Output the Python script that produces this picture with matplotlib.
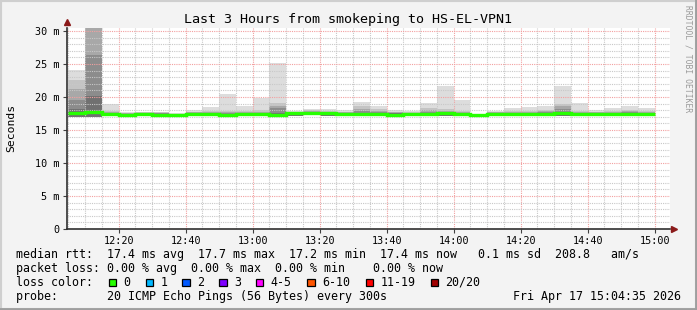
import numpy as np
import pandas as pd
import matplotlib
matplotlib.use("Agg")
from matplotlib import pyplot as plt
import matplotlib.dates as mdates
from matplotlib.ticker import MultipleLocator, FuncFormatter
from matplotlib.patches import Rectangle

# 5 minute steps, values in ms
bar_times = pd.date_range("2026-04-17 12:05", periods=35, freq="5min")
smoke_max = [24.1, 30.4, 19.0, 17.7, 17.8, 17.8, 17.5, 18.0, 18.5, 20.4, 18.6, 19.9, 25.1, 17.9, 18.2, 18.2, 18.0, 19.3,
             18.6, 18.0, 17.9, 19.1, 21.6, 19.5, 17.4, 17.9, 18.4, 18.5, 18.6, 21.7, 19.1, 18.1, 18.3, 18.6, 18.4]
smoke_p2 = [22.6, 30.4, 17.9, 17.6, 17.7, 17.7, 17.4, 17.8, 17.9, 17.9, 17.9, 18.0, 19.1, 17.8, 18.0, 17.9, 17.8, 18.6,
            18.2, 17.8, 17.7, 18.3, 18.2, 17.9, 17.4, 17.8, 17.9, 17.9, 18.1, 19.0, 17.9, 17.8, 17.9, 18.0, 17.9]
smoke_p3 = [21.2, 30.4, 17.7, 17.5, 17.6, 17.6, 17.4, 17.7, 17.7, 17.7, 17.7, 17.8, 18.6, 17.7, 17.9, 17.8, 17.7, 18.2,
            17.9, 17.7, 17.6, 18.0, 17.9, 17.8, 17.3, 17.7, 17.8, 17.8, 17.9, 18.6, 17.8, 17.7, 17.8, 17.9, 17.8]
smoke_p4 = [19.6, 26.3, 17.6, 17.4, 17.5, 17.5, 17.3, 17.6, 17.6, 17.5, 17.6, 17.6, 18.3, 17.6, 17.7, 17.7, 17.6, 17.9,
            17.7, 17.6, 17.5, 17.8, 17.7, 17.6, 17.3, 17.5, 17.6, 17.6, 17.7, 18.2, 17.6, 17.6, 17.6, 17.7, 17.6]
smoke_p5 = [18.2, 20.2, 17.5, 17.3, 17.4, 17.4, 17.3, 17.5, 17.5, 17.3, 17.5, 17.5, 17.6, 17.6, 17.6, 17.6, 17.5, 17.6,
            17.6, 17.5, 17.4, 17.6, 17.6, 17.5, 17.3, 17.4, 17.5, 17.5, 17.6, 17.7, 17.5, 17.5, 17.5, 17.6, 17.5]
smoke_min = [16.9, 17.0, 17.1, 17.0, 17.1, 17.1, 17.1, 17.1, 17.1, 16.9, 17.1, 17.1, 17.0, 17.1, 17.2, 17.1, 17.1, 17.1,
             17.1, 17.1, 17.1, 17.1, 17.1, 17.1, 17.1, 17.1, 17.1, 17.1, 17.1, 17.1, 17.1, 17.1, 17.1, 17.1, 17.1]
median = [17.5, 17.8, 17.4, 17.3, 17.4, 17.3, 17.2, 17.4, 17.4, 17.3, 17.4, 17.4, 17.3, 17.5, 17.5, 17.5, 17.4, 17.4,
          17.4, 17.3, 17.4, 17.4, 17.5, 17.4, 17.2, 17.4, 17.4, 17.4, 17.4, 17.5, 17.4, 17.4, 17.4, 17.4, 17.4]

loss_labels = ["0", "1", "2", "3", "4-5", "6-10", "11-19", "20/20"]
loss_colors = ["#26ff00", "#00b8ff", "#0059ff", "#7e00ff", "#ff00ff", "#ff5500", "#ff0000", "#a10000"]
loss_box_x = [108.7, 146.0, 182.3, 219.3, 256.0, 307.3, 365.7, 431.0]

title = "Last 3 Hours from smokeping to HS-EL-VPN1"
rtt_line = "median rtt:  17.4 ms avg  17.7 ms max  17.2 ms min  17.4 ms now   0.1 ms sd  208.8   am/s"
loss_line = "packet loss: 0.00 % avg  0.00 % max  0.00 % min    0.00 % now"
probe_line = "probe:       20 ICMP Echo Pings (56 Bytes) every 300s"
stamp = "Fri Apr 17 15:04:35 2026"

W, H = 697, 310
mono = "DejaVu Sans Mono"

fig = plt.figure(figsize=(W / 100, H / 100), dpi=100, facecolor="#f3f3f3")
ax = fig.add_axes([67 / W, (H - 229) / H, 603 / W, 201 / H])
ax.set_facecolor("white")

# smoke bands, lightest outside
step = pd.Timedelta(minutes=5) / pd.Timedelta(days=1)
xs = mdates.date2num(bar_times)
mins = np.array(smoke_min)
for level, col in zip([smoke_max, smoke_p2, smoke_p3, smoke_p4, smoke_p5],
                      ["#dddddd", "#c4c4c4", "#a8a8a8", "#8c8c8c", "#707070"]):
    ax.bar(xs, np.array(level) - mins, bottom=mins, width=step, align="edge",
           color=col, linewidth=0, zorder=1)

edges = np.append(xs, xs[-1] + step)
ax.stairs(median, edges, baseline=None, color="#26ff00", lw=2.4, zorder=4)

x0 = mdates.date2num(pd.Timestamp("2026-04-17 12:04:35"))
ax.set_xlim(x0, x0 + 3 / 24)
ax.set_ylim(0, 30.45)

ax.xaxis.set_major_locator(mdates.MinuteLocator(byminute=[0, 20, 40]))
ax.xaxis.set_minor_locator(mdates.MinuteLocator(byminute=range(0, 60, 5)))
ax.xaxis.set_major_formatter(mdates.DateFormatter("%H:%M"))
ax.yaxis.set_major_locator(MultipleLocator(5))
ax.yaxis.set_minor_locator(MultipleLocator(1))
ax.yaxis.set_major_formatter(FuncFormatter(lambda v, p: "0" if v == 0 else "%d m" % v))

ax.set_axisbelow(False)
ax.grid(which="minor", color="#c8c8c8", linestyle=(0, (1, 1)), lw=0.8)
ax.grid(which="major", color="#f2a0a0", linestyle=(0, (1, 1)), lw=0.8)

ax.tick_params(which="major", direction="out", length=3, width=0.8, color="#404040", pad=2,
               labelsize=7.3, labelcolor="#000000")
ax.tick_params(which="minor", length=0)
for lab in ax.get_xticklabels() + ax.get_yticklabels():
    lab.set_family(mono)
ax.tick_params(axis="y", pad=2.5)

for s in ["top", "right"]:
    ax.spines[s].set_visible(False)
for s in ["left", "bottom"]:
    ax.spines[s].set_color("#303030")
    ax.spines[s].set_linewidth(1.2)
    ax.spines[s].set_zorder(5)

# axis arrows
ax.plot([0], [1.03], marker="^", ms=5, color="#8b1a1a", transform=ax.transAxes, clip_on=False, zorder=6)
ax.plot([1.006], [0], marker=">", ms=5, color="#8b1a1a", transform=ax.transAxes, clip_on=False, zorder=6)

def fx(px):
    return px / W

def fy(py):
    return 1 - py / H

fig.text(fx(348), fy(20), title, family=mono, fontsize=9.6, ha="center", va="center")
fig.text(fx(11), fy(128), "Seconds", family=mono, fontsize=8.2, rotation=90, ha="center", va="center")
fig.text(fx(688), fy(5), "RRDTOOL / TOBI OETIKER", family=mono, fontsize=5.8, rotation=270,
         ha="center", va="top", color="#9a9a9a")

fig.text(fx(16), fy(254.3), rtt_line, family=mono, fontsize=8.4, va="center")
fig.text(fx(16), fy(268.3), loss_line, family=mono, fontsize=8.4, va="center")
fig.text(fx(16), fy(282.3), "loss color:", family=mono, fontsize=8.4, va="center")
for bx, lab, col in zip(loss_box_x, loss_labels, loss_colors):
    fig.patches.append(Rectangle((fx(bx), fy(286)), fx(7.3), 7.3 / H, transform=fig.transFigure,
                                 facecolor=col, edgecolor="black", lw=0.9))
    fig.text(fx(bx + 14.6), fy(282.3), lab, family=mono, fontsize=8.4, va="center")
fig.text(fx(16), fy(296.3), probe_line, family=mono, fontsize=8.4, va="center")
fig.text(fx(513.3), fy(296.3), stamp, family=mono, fontsize=8.4, va="center")

# image frame
fig.patches.append(Rectangle((0, 0), 1, 1, transform=fig.transFigure, fill=False,
                             edgecolor="#cfcfcf", lw=3))
fig.lines.append(plt.Line2D([fx(0), fx(W)], [fy(308.5), fy(308.5)], transform=fig.transFigure,
                            color="#9e9e9e", lw=2))
fig.lines.append(plt.Line2D([fx(695.5), fx(695.5)], [fy(0), fy(H)], transform=fig.transFigure,
                            color="#9e9e9e", lw=2))

fig.savefig("out.png", dpi=100, facecolor=fig.get_facecolor())
